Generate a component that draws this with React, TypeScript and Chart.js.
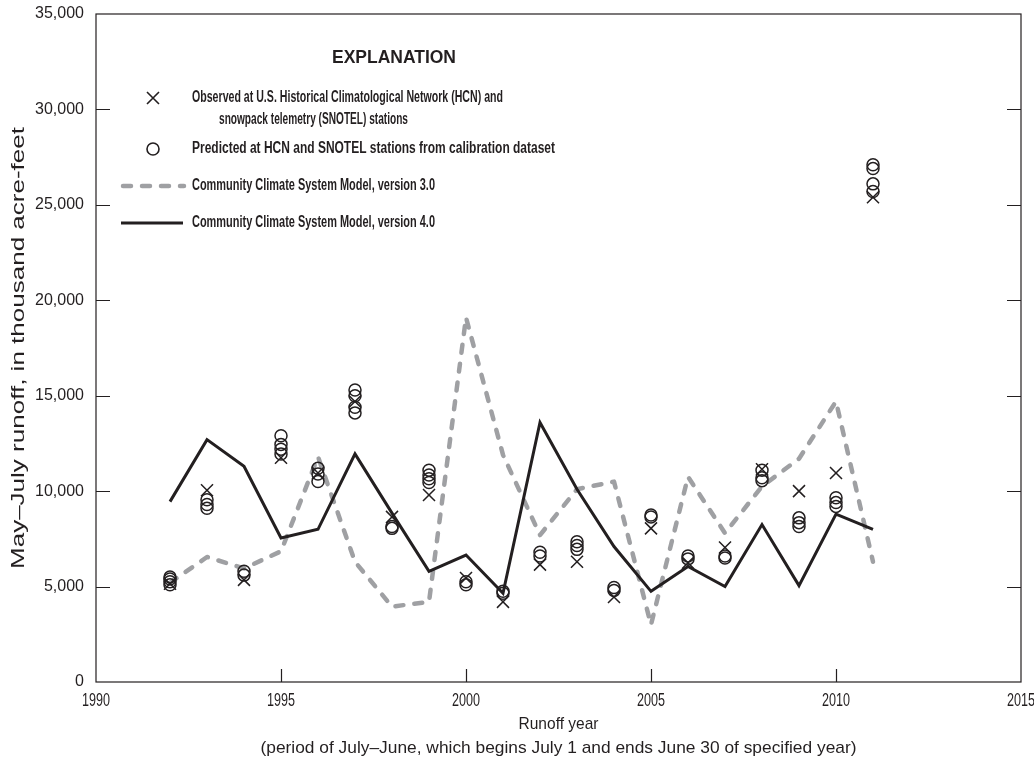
import { useEffect, useRef } from "react";
import { Chart, registerables } from "chart.js";

Chart.register(...registerables);

// Runoff years (July–June), 1992–2011
const years = [
  1992, 1993, 1994, 1995, 1996, 1997, 1998, 1999, 2000, 2001,
  2002, 2003, 2004, 2005, 2006, 2007, 2008, 2009, 2010, 2011,
];

// Community Climate System Model, version 3.0 (thousand acre-feet)
const ccsm3Runoff = [
  5200, 6550, 5950, 6850, 11800, 6300, 3950, 4200, 19100, 11900,
  7700, 10100, 10500, 3000, 10750, 7800, 10250, 11700, 14700, 6300,
];

// Community Climate System Model, version 4.0 (thousand acre-feet)
const ccsm4Runoff = [
  9450, 12700, 11300, 7550, 8000, 11950, 8850, 5800, 6650, 4650,
  13600, 10100, 7100, 4750, 6050, 5000, 8250, 5050, 8800, 8000,
];

// Observed at HCN and SNOTEL stations
const observedRunoff = [
  5150, 10050, 5350, 11750, 10950, 14700, 8650, 9800, 5450, 4200,
  6150, 6300, 4450, 8050, 6250, 7050, 11150, 10000, 10950, 25400,
];

// Predicted at HCN and SNOTEL stations from calibration dataset (several per year)
const predictedRunoff = [
  [5100, 5250, 5400, 5500],
  [9100, 9300, 9550],
  [5600, 5800],
  [11950, 12200, 12450, 12900],
  [10500, 10900, 11200],
  [14100, 14400, 15000, 15300],
  [8050, 8150],
  [10450, 10650, 10850, 11100],
  [5100, 5250],
  [4650, 4750],
  [6600, 6800],
  [6950, 7150, 7350],
  [4800, 4950],
  [8650, 8750],
  [6450, 6600],
  [6500, 6600],
  [10550, 10700, 11100],
  [8150, 8350, 8600],
  [9200, 9400, 9650],
  [25700, 26100, 26900, 27100],
];

const xTickYears = [1990, 1995, 2000, 2005, 2010, 2015];
const yTickValues = [0, 5000, 10000, 15000, 20000, 25000, 30000, 35000];

const INK = "#231f20";
const GRAY = "#9fa0a3";
const NARROW = '"Liberation Sans Narrow", "Liberation Sans", Arial, sans-serif';
const SANS = '"Liberation Sans", Arial, sans-serif';

const DASH = [8, 11];

// Draws a line of text squeezed or widened to a set width (condensed type)
function fitText(
  ctx: CanvasRenderingContext2D,
  text: string,
  x: number,
  y: number,
  width: number,
  align: CanvasTextAlign
) {
  const natural = ctx.measureText(text).width;
  ctx.save();
  ctx.translate(x, y);
  ctx.scale(width / natural, 1);
  ctx.textAlign = align;
  ctx.fillText(text, 0, 0);
  ctx.restore();
}

const framePlugin = {
  id: "frameTitlesExplanation",
  afterDraw(chart: any) {
    const { ctx, chartArea: a, scales } = chart;
    ctx.save();

    // Plot frame
    ctx.strokeStyle = INK;
    ctx.lineWidth = 1.2;
    ctx.strokeRect(a.left, a.top, a.right - a.left, a.bottom - a.top);

    // Inward tick marks on left and right edges
    ctx.beginPath();
    yTickValues.forEach((v) => {
      if (v === 0 || v === 35000) return;
      const py = Math.round(scales.y.getPixelForValue(v)) + 0.5;
      ctx.moveTo(a.left, py);
      ctx.lineTo(a.left + 14, py);
      ctx.moveTo(a.right, py);
      ctx.lineTo(a.right - 14, py);
    });
    // Inward tick marks on bottom edge
    xTickYears.forEach((v) => {
      if (v === 1990 || v === 2015) return;
      const px = Math.round(scales.x.getPixelForValue(v)) + 0.5;
      ctx.moveTo(px, a.bottom);
      ctx.lineTo(px, a.bottom - 13);
    });
    ctx.stroke();

    ctx.fillStyle = INK;
    ctx.textBaseline = "middle";

    // Year labels under the x axis, in condensed type
    ctx.font = `18px ${NARROW}`;
    xTickYears.forEach((v) => {
      fitText(ctx, String(v), scales.x.getPixelForValue(v), a.bottom + 19, 28, "center");
    });

    // Axis titles
    ctx.font = `17px ${NARROW}`;
    const cx = (a.left + a.right) / 2;
    fitText(ctx, "Runoff year", cx, 724, 80, "center");
    fitText(
      ctx,
      "(period of July–June, which begins July 1 and ends June 30 of specified year)",
      cx,
      748,
      596,
      "center"
    );
    ctx.save();
    ctx.translate(19, (a.top + a.bottom) / 2);
    ctx.rotate(-Math.PI / 2);
    ctx.font = `19px ${NARROW}`;
    fitText(ctx, "May–July runoff, in thousand acre-feet", 0, 0, 442, "center");
    ctx.restore();

    // Explanation block
    ctx.font = `bold 18px ${NARROW}`;
    fitText(ctx, "EXPLANATION", 394, 58, 124, "center");

    ctx.font = `bold 16px ${NARROW}`;
    fitText(ctx, "Observed at U.S. Historical Climatological Network (HCN) and", 192, 98, 311, "left");
    fitText(ctx, "snowpack telemetry (SNOTEL) stations", 219, 120, 189, "left");
    fitText(ctx, "Predicted at HCN and SNOTEL stations from calibration dataset", 192, 149, 363, "left");
    fitText(ctx, "Community Climate System Model, version 3.0", 192, 186, 243, "left");
    fitText(ctx, "Community Climate System Model, version 4.0", 192, 223, 243, "left");

    // Symbols
    ctx.strokeStyle = INK;
    ctx.lineWidth = 1.6;
    ctx.beginPath();
    ctx.moveTo(147, 92);
    ctx.lineTo(159, 104);
    ctx.moveTo(159, 92);
    ctx.lineTo(147, 104);
    ctx.stroke();
    ctx.beginPath();
    ctx.arc(153, 149, 6, 0, Math.PI * 2);
    ctx.stroke();

    ctx.lineCap = "round";
    ctx.strokeStyle = GRAY;
    ctx.lineWidth = 4.5;
    ctx.setLineDash(DASH);
    ctx.beginPath();
    ctx.moveTo(123, 186);
    ctx.lineTo(184, 186);
    ctx.stroke();
    ctx.setLineDash([]);
    ctx.lineCap = "butt";
    ctx.strokeStyle = INK;
    ctx.lineWidth = 3;
    ctx.beginPath();
    ctx.moveTo(121, 223);
    ctx.lineTo(183, 223);
    ctx.stroke();

    ctx.restore();
  },
};

export default function App() {
  const canvasRef = useRef<HTMLCanvasElement | null>(null);

  useEffect(() => {
    const canvas = canvasRef.current;
    if (!canvas) return;

    const predictedPoints = years.flatMap((yr, i) =>
      predictedRunoff[i].map((v) => ({ x: yr, y: v }))
    );

    const chart = new Chart(canvas, {
      type: "line",
      data: {
        datasets: [
          {
            label: "Predicted at HCN and SNOTEL stations from calibration dataset",
            data: predictedPoints,
            showLine: false,
            pointStyle: "circle",
            pointRadius: 6,
            pointBorderWidth: 1.5,
            pointBorderColor: INK,
            pointBackgroundColor: "rgba(0,0,0,0)",
            order: 1,
          },
          {
            label: "Observed at U.S. Historical Climatological Network (HCN) and snowpack telemetry (SNOTEL) stations",
            data: years.map((yr, i) => ({ x: yr, y: observedRunoff[i] })),
            showLine: false,
            pointStyle: "crossRot",
            pointRadius: 8.5,
            pointBorderWidth: 1.5,
            pointBorderColor: INK,
            order: 0,
          },
          {
            label: "Community Climate System Model, version 3.0",
            data: years.map((yr, i) => ({ x: yr, y: ccsm3Runoff[i] })),
            borderColor: GRAY,
            borderWidth: 4.5,
            borderDash: DASH,
            borderCapStyle: "round",
            borderJoinStyle: "round",
            pointRadius: 0,
            tension: 0,
            fill: false,
            order: 3,
          },
          {
            label: "Community Climate System Model, version 4.0",
            data: years.map((yr, i) => ({ x: yr, y: ccsm4Runoff[i] })),
            borderColor: INK,
            borderWidth: 3,
            borderJoinStyle: "miter",
            pointRadius: 0,
            tension: 0,
            fill: false,
            order: 2,
          },
        ],
      },
      options: {
        animation: false,
        responsive: true,
        maintainAspectRatio: false,
        layout: { padding: { left: 0, right: 0, top: 14, bottom: 0 } },
        plugins: {
          legend: { display: false },
          tooltip: { enabled: false },
        },
        scales: {
          x: {
            type: "linear",
            min: 1990,
            max: 2015,
            afterBuildTicks: (s: any) => {
              s.ticks = xTickYears.map((v) => ({ value: v }));
            },
            afterFit: (s: any) => {
              s.height = 87;
              s.paddingLeft = 0;
              s.paddingRight = 13;
            },
            grid: { display: false, drawTicks: false },
            border: { display: false },
            ticks: { display: false },
          },
          y: {
            type: "linear",
            min: 0,
            max: 35000,
            afterBuildTicks: (s: any) => {
              s.ticks = yTickValues.map((v) => ({ value: v }));
            },
            afterFit: (s: any) => {
              s.width = 96;
              s.paddingTop = 0;
              s.paddingBottom = 0;
            },
            grid: { display: false, drawTicks: false },
            border: { display: false },
            ticks: {
              color: INK,
              padding: 12,
              autoSkip: false,
              font: { family: SANS, size: 16 },
              callback: (v: any) => Number(v).toLocaleString("en-US"),
            },
          },
        },
      },
      plugins: [framePlugin],
    });

    return () => chart.destroy();
  }, []);

  return (
    <div
      style={{
        position: "absolute",
        left: 0,
        top: 0,
        width: 1034,
        height: 769,
        background: "#ffffff",
      }}
    >
      <canvas ref={canvasRef} />
    </div>
  );
}
